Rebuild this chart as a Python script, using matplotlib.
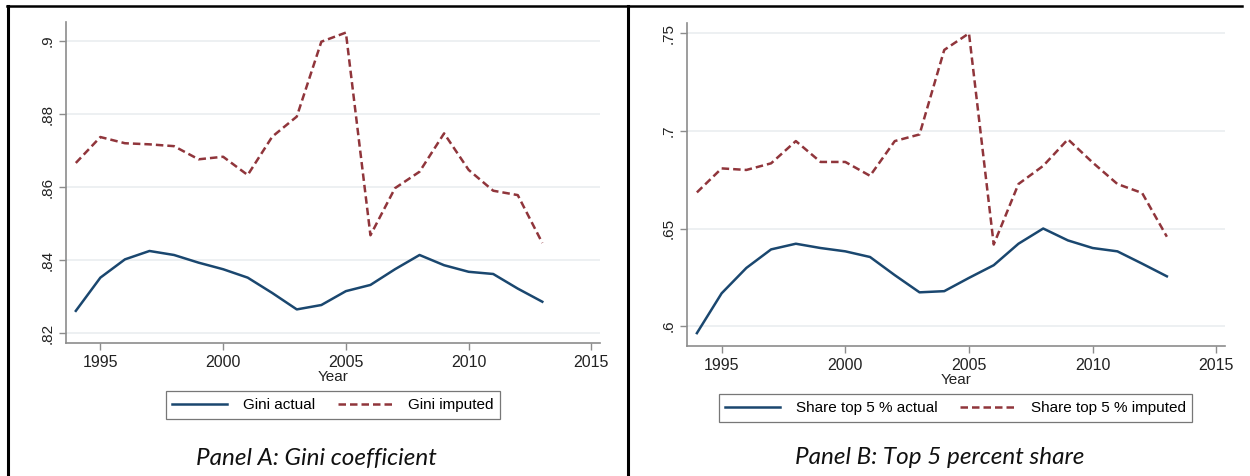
import matplotlib
matplotlib.use("Agg")
import matplotlib.pyplot as plt
from matplotlib.lines import Line2D
from matplotlib.ticker import FuncFormatter

plt.rcParams["font.family"] = ["Liberation Sans", "DejaVu Sans"]

years = list(range(1994, 2014))

gini_actual = [.8261, .8352, .8402, .8425, .8414, .8393, .8375, .8352, .8310, .8265,
               .8277, .8315, .8332, .8375, .8414, .8386, .8368, .8362, .8322, .8286]
gini_imputed = [.8666, .8737, .8720, .8717, .8712, .8676, .8683, .8633, .8738, .8793,
                .8998, .9023, .8468, .8597, .8642, .8747, .8647, .8590, .8578, .8447]

top5_actual = [.5964, .6168, .6298, .6393, .6422, .6400, .6383, .6354, .6261, .6173,
               .6179, .6247, .6312, .6422, .6500, .6439, .6400, .6383, .6320, .6255]
top5_imputed = [.6685, .6808, .6800, .6834, .6948, .6841, .6841, .6770, .6948, .6982,
                .7415, .7500, .6418, .6728, .6821, .6957, .6838, .6728, .6682, .6458]

gini_ticks = [.82, .84, .86, .88, .9]
top5_ticks = [.6, .65, .7, .75]
x_ticks = [1995, 2000, 2005, 2010, 2015]

NAVY = "#1a476f"
MAROON = "#90353b"
GRID = "#eaeef0"
AXIS = "#8c8c8c"


def stata_fmt(v, pos):
    s = ("%.3f" % v).rstrip("0").rstrip(".")
    return s[1:] if s.startswith("0") else s


def panel(ax, actual, imputed, yticks, ylim, lab_a, lab_i, legend_box):
    ax.plot(years, actual, color=NAVY, lw=1.8, label=lab_a)
    ax.plot(years, imputed, color=MAROON, lw=1.8, ls=(0, (3, 1.6)), label=lab_i)
    ax.set_xlim(1993.6, 2015.35)
    ax.set_ylim(*ylim)
    ax.set_xticks(x_ticks)
    ax.set_yticks(yticks)
    ax.yaxis.set_major_formatter(FuncFormatter(stata_fmt))
    ax.grid(axis="y", color=GRID, lw=1.2)
    ax.set_axisbelow(True)
    for s in ["top", "right"]:
        ax.spines[s].set_visible(False)
    for s in ["left", "bottom"]:
        ax.spines[s].set_color(AXIS)
        ax.spines[s].set_linewidth(1.2)
    ax.tick_params(axis="x", colors=AXIS, labelcolor="#222222", labelsize=11.5,
                   length=5, width=1)
    ax.tick_params(axis="y", colors=AXIS, labelcolor="#222222", labelsize=11,
                   length=5, width=1)
    for lab in ax.get_yticklabels():
        lab.set_rotation(90)
        lab.set_va("center")
    ax.set_xlabel("Year", fontsize=11, color="#222222", labelpad=0)
    leg = ax.legend(loc="center", bbox_to_anchor=legend_box, ncol=2,
                    bbox_transform=ax.figure.transFigure, fontsize=11,
                    frameon=True, fancybox=False, handlelength=3.6,
                    handletextpad=1.0, columnspacing=1.5, borderpad=0.45)
    leg.get_frame().set_edgecolor("#555555")
    leg.get_frame().set_linewidth(0.9)


fig = plt.figure(figsize=(12.5, 4.76), dpi=100)
ax1 = fig.add_axes([0.0528, 0.2794, 0.4272, 0.6744])
ax2 = fig.add_axes([0.5496, 0.2731, 0.4304, 0.6786])

panel(ax1, gini_actual, gini_imputed, gini_ticks, (.8173, .9052),
      "Gini actual", "Gini imputed", (0.2664, 0.1492))
panel(ax2, top5_actual, top5_imputed, top5_ticks, (.5898, .7553),
      "Share top 5 % actual", "Share top 5 % imputed", (0.7644, 0.1429))

# table borders
fig.add_artist(Line2D([7 / 1250, 1242 / 1250], [1 - 6 / 476] * 2, color="black", lw=1.8))
fig.add_artist(Line2D([7.5 / 1250] * 2, [0, 1 - 6 / 476], color="black", lw=2.2))
fig.add_artist(Line2D([628 / 1250] * 2, [0, 1 - 6 / 476], color="black", lw=2.2))

fig.text(316 / 1250, 1 - 458 / 476, "Panel A: Gini coefficient", ha="center", va="center",
         fontsize=17.5, style="italic", family="Lato", color="#111111")
fig.text(940 / 1250, 1 - 458 / 476, "Panel B: Top 5 percent share", ha="center", va="center",
         fontsize=17.5, style="italic", family="Lato", color="#111111")

fig.savefig("out.png", dpi=100)
